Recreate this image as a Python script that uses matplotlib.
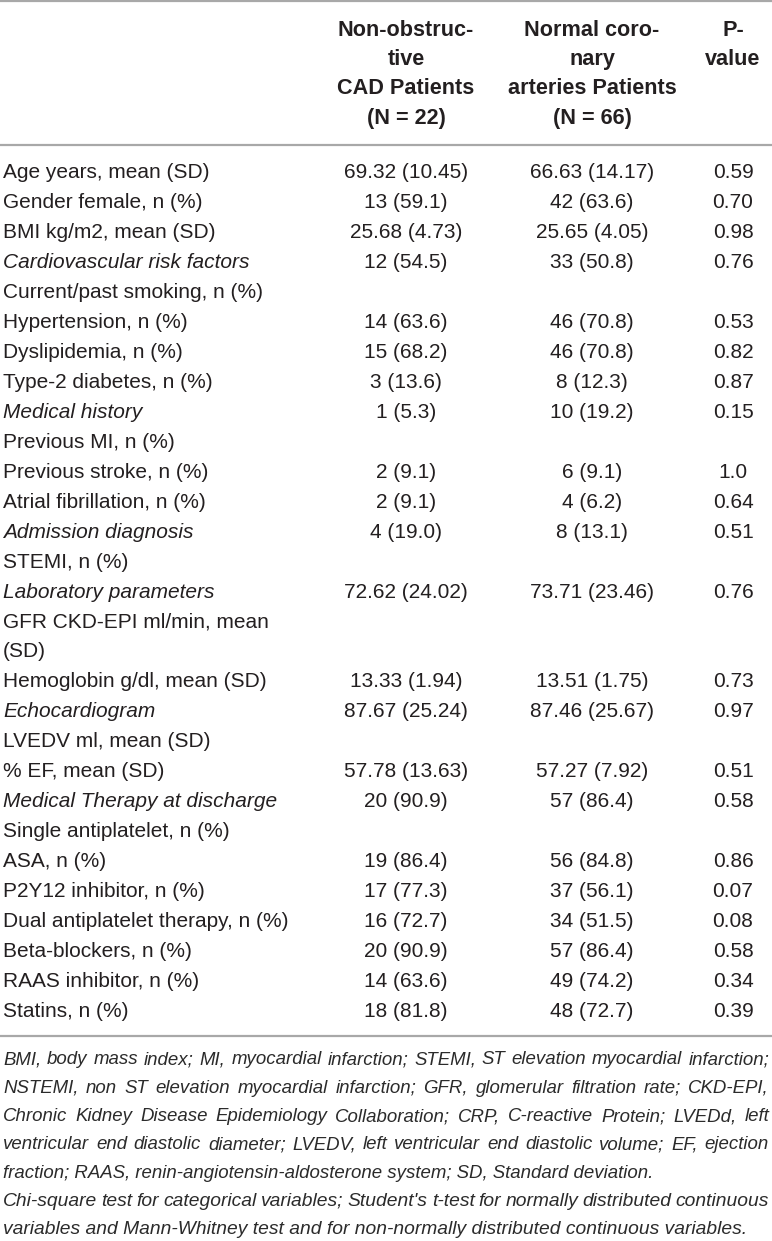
#!/usr/bin/env python3
"""Table 1 style figure: baseline characteristics, drawn as text with matplotlib."""
import matplotlib
matplotlib.use("Agg")
import matplotlib.pyplot as plt

W, H = 772, 1241
INK = "#231f20"
RULE = "#a8a8a8"

# ---- table content ----
col_headers = [
    ["Non-obstruc-", "tive", "CAD Patients", "(N = 22)"],
    ["Normal coro-", "nary", "arteries Patients", "(N = 66)"],
    ["P-", "value"],
]

labels = [
    "Age years, mean (SD)", "Gender female, n (%)", "BMI kg/m2, mean (SD)",
    "Cardiovascular risk factors", "Current/past smoking, n (%)",
    "Hypertension, n (%)", "Dyslipidemia, n (%)", "Type-2 diabetes, n (%)",
    "Medical history", "Previous MI, n (%)", "Previous stroke, n (%)",
    "Atrial fibrillation, n (%)", "Admission diagnosis", "STEMI, n (%)",
    "Laboratory parameters", "GFR CKD-EPI ml/min, mean", "(SD)",
    "Hemoglobin g/dl, mean (SD)", "Echocardiogram", "LVEDV ml, mean (SD)",
    "% EF, mean (SD)", "Medical Therapy at discharge",
    "Single antiplatelet, n (%)", "ASA, n (%)", "P2Y12 inhibitor, n (%)",
    "Dual antiplatelet therapy, n (%)", "Beta-blockers, n (%)",
    "RAAS inhibitor, n (%)", "Statins, n (%)",
]
italic_labels = {"Cardiovascular risk factors", "Medical history",
                 "Admission diagnosis", "Laboratory parameters",
                 "Echocardiogram", "Medical Therapy at discharge"}

non_obstructive = [
    "69.32 (10.45)", "13 (59.1)", "25.68 (4.73)", "12 (54.5)", "",
    "14 (63.6)", "15 (68.2)", "3 (13.6)", "1 (5.3)", "",
    "2 (9.1)", "2 (9.1)", "4 (19.0)", "",
    "72.62 (24.02)", "", "",
    "13.33 (1.94)", "87.67 (25.24)", "",
    "57.78 (13.63)", "20 (90.9)", "",
    "19 (86.4)", "17 (77.3)", "16 (72.7)", "20 (90.9)", "14 (63.6)", "18 (81.8)",
]
normal_coronary = [
    "66.63 (14.17)", "42 (63.6)", "25.65 (4.05)", "33 (50.8)", "",
    "46 (70.8)", "46 (70.8)", "8 (12.3)", "10 (19.2)", "",
    "6 (9.1)", "4 (6.2)", "8 (13.1)", "",
    "73.71 (23.46)", "", "",
    "13.51 (1.75)", "87.46 (25.67)", "",
    "57.27 (7.92)", "57 (86.4)", "",
    "56 (84.8)", "37 (56.1)", "34 (51.5)", "57 (86.4)", "49 (74.2)", "48 (72.7)",
]
p_values = [
    "0.59", "0.70", "0.98", "0.76", "",
    "0.53", "0.82", "0.87", "0.15", "",
    "1.0", "0.64", "0.51", "",
    "0.76", "", "",
    "0.73", "0.97", "",
    "0.51", "0.58", "",
    "0.86", "0.07", "0.08", "0.58", "0.34", "0.39",
]

# footnote lines: (text, justified, font size)
footnote = [
    ("BMI, body mass index; MI, myocardial infarction; STEMI, ST elevation myocardial infarction;", True, 13.4),
    ("NSTEMI, non ST elevation myocardial infarction; GFR, glomerular filtration rate; CKD-EPI,", True, 13.4),
    ("Chronic Kidney Disease Epidemiology Collaboration; CRP, C-reactive Protein; LVEDd, left", True, 13.4),
    ("ventricular end diastolic diameter; LVEDV, left ventricular end diastolic volume; EF, ejection", True, 13.4),
    ("fraction; RAAS, renin-angiotensin-aldosterone system; SD, Standard deviation.", False, 13.4),
    ("Chi-square test for categorical variables; Student's t-test for normally distributed continuous", True, 13.9),
    ("variables and Mann-Whitney test and for non-normally distributed continuous variables.", False, 13.9),
]

# ---- layout (pixels) ----
FONT = "Liberation Sans"
FS = 15.0
FS_HEAD = 15.6
x_label = 3
x_cols = [406, 592, 733]
y_head0, dy_head = 30, 29.5
y_row0, dy_row = 173, 29.93
y_note0, dy_note = 1060, 28.3
note_left, note_right = 3, 769
NOTE_INK = "#2b2b2b"

plt.rcParams["font.family"] = [FONT, "DejaVu Sans"]
fig = plt.figure(figsize=(W / 100, H / 100), dpi=100)
ax = fig.add_axes([0, 0, 1, 1])
ax.set_xlim(0, W)
ax.set_ylim(H, 0)
ax.axis("off")

for y in (1, 145, 1036):
    ax.plot([0, W], [y, y], color=RULE, lw=1.6, solid_capstyle="butt")

for x, lines in zip(x_cols, col_headers):
    for i, s in enumerate(lines):
        ax.text(x, y_head0 + i * dy_head, s, ha="center", va="center",
                fontsize=FS_HEAD, fontweight="bold", color=INK)

for i, lab in enumerate(labels):
    y = y_row0 + i * dy_row
    ax.text(x_label, y, lab, ha="left", va="center", fontsize=FS, color=INK,
            style="italic" if lab in italic_labels else "normal")
    for x, col in zip(x_cols, (non_obstructive, normal_coronary, p_values)):
        if col[i]:
            ax.text(x, y, col[i], ha="center", va="center", fontsize=FS, color=INK)

renderer = fig.canvas.get_renderer()


def word_width(word, fs):
    t = ax.text(0, 0, word, fontsize=fs, style="italic")
    w = t.get_window_extent(renderer).width
    t.remove()
    return w


for i, (line, justify, fs) in enumerate(footnote):
    y = y_note0 + i * dy_note
    if not justify:
        ax.text(note_left, y, line, ha="left", va="center", fontsize=fs,
                style="italic", color=NOTE_INK)
        continue
    words = line.split(" ")
    widths = [word_width(w, fs) for w in words]
    span = note_right - note_left
    min_gap = 3.0
    if sum(widths) + min_gap * (len(words) - 1) > span:
        fs = fs * (span - min_gap * (len(words) - 1)) / sum(widths)
        widths = [word_width(w, fs) for w in words]
    gap = (span - sum(widths)) / (len(words) - 1)
    x = note_left
    for w, wd in zip(words, widths):
        ax.text(x, y, w, ha="left", va="center", fontsize=fs,
                style="italic", color=NOTE_INK)
        x += wd + gap

fig.savefig("out.png", dpi=100)
